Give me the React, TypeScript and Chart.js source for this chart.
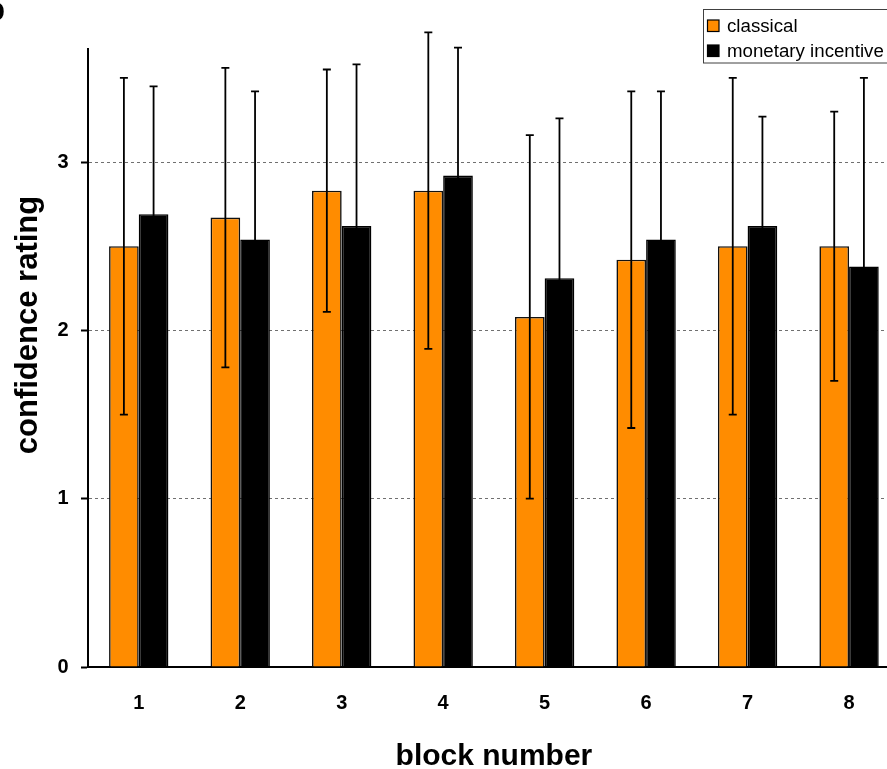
import React, { useEffect, useRef } from "react";
import { Chart, registerables } from "chart.js";

Chart.register(...registerables);

const blocks = ["1", "2", "3", "4", "5", "6", "7", "8"];
const classicalMean = [2.5, 2.67, 2.83, 2.83, 2.08, 2.42, 2.5, 2.5];
const classicalSD = [1.0, 0.89, 0.72, 0.94, 1.08, 1.0, 1.0, 0.8];
const monetaryMean = [2.69, 2.54, 2.62, 2.92, 2.31, 2.54, 2.62, 2.38];
const monetarySD = [0.76, 0.88, 0.96, 0.76, 0.95, 0.88, 0.65, 1.12];
const yTicks = [0, 1, 2, 3];
const seriesLabels = ["classical", "monetary incentive"];
const xTitle = "block number";
const yTitle = "confidence rating";
const panelLetter = "b";

const FONT = "'Liberation Sans', Arial, Helvetica, sans-serif";
const ORANGE = "#FF8C00";

const errorBarPlugin = {
  id: "errorBars",
  afterDatasetsDraw(chart: any) {
    const { ctx } = chart;
    const yScale = chart.scales.y;
    const sds = [classicalSD, monetarySD];
    ctx.save();
    ctx.strokeStyle = "#000";
    ctx.lineWidth = 1.8;
    chart.data.datasets.forEach((ds: any, di: number) => {
      const meta = chart.getDatasetMeta(di);
      meta.data.forEach((bar: any, i: number) => {
        const m = ds.data[i];
        const sd = sds[di][i];
        const x = bar.x;
        const yHi = yScale.getPixelForValue(m + sd);
        const yLo = yScale.getPixelForValue(m - sd);
        ctx.beginPath();
        ctx.moveTo(x, yHi);
        ctx.lineTo(x, yLo);
        ctx.moveTo(x - 4, yHi);
        ctx.lineTo(x + 4, yHi);
        ctx.moveTo(x - 4, yLo);
        ctx.lineTo(x + 4, yLo);
        ctx.stroke();
      });
    });
    ctx.restore();
  },
};

const decorPlugin = {
  id: "decor",
  afterDraw(chart: any) {
    const { ctx, chartArea } = chart;
    ctx.save();
    ctx.fillStyle = "#000";
    ctx.font = `bold 30px ${FONT}`;
    ctx.textAlign = "center";
    ctx.textBaseline = "alphabetic";
    ctx.fillText(xTitle, (chartArea.left + chartArea.right) / 2, 765);

    ctx.save();
    ctx.translate(36.5, 325);
    ctx.rotate(-Math.PI / 2);
    ctx.font = `bold 31px ${FONT}`;
    ctx.fillText(yTitle, 0, 0);
    ctx.restore();

    ctx.font = `bold 32px ${FONT}`;
    ctx.textAlign = "right";
    ctx.fillText(panelLetter, 5, 20);

    ctx.fillStyle = "#fff";
    ctx.fillRect(703.5, 9.5, 200, 53.5);
    ctx.strokeStyle = "#404040";
    ctx.lineWidth = 1;
    ctx.strokeRect(703.5, 9.5, 200, 53.5);
    const colors = chart.data.datasets.map((d: any) => d.backgroundColor);
    const rows = [25.5, 50.5];
    ctx.font = `18.7px ${FONT}`;
    ctx.textAlign = "left";
    ctx.textBaseline = "alphabetic";
    chart.data.datasets.forEach((d: any, i: number) => {
      const cy = rows[i];
      ctx.fillStyle = colors[i];
      ctx.fillRect(707.5, cy - 5.5, 11.5, 11.5);
      ctx.strokeStyle = "#000";
      ctx.lineWidth = 1.2;
      ctx.strokeRect(707.5, cy - 5.5, 11.5, 11.5);
      ctx.fillStyle = "#000";
      ctx.fillText(d.label, 727, cy + 6.5);
    });
    ctx.restore();
  },
};

export default function App() {
  const ref = useRef<HTMLCanvasElement>(null);
  useEffect(() => {
    if (!ref.current) return;
    const chart = new Chart(ref.current, {
      type: "bar",
      data: {
        labels: blocks,
        datasets: [
          {
            label: seriesLabels[0],
            data: classicalMean,
            backgroundColor: ORANGE,
            borderColor: "#111",
            borderWidth: 1.6,
            categoryPercentage: 0.585,
            barPercentage: 1,
          },
          {
            label: seriesLabels[1],
            data: monetaryMean,
            backgroundColor: "#000",
            borderColor: "#000",
            borderWidth: 1.6,
            categoryPercentage: 0.585,
            barPercentage: 1,
          },
        ],
      },
      options: {
        responsive: false,
        animation: false,
        layout: { padding: { top: 49.3, left: 0, right: 2.2, bottom: 0 } },
        plugins: {
          legend: { display: false },
          tooltip: { enabled: false },
          title: { display: false },
        },
        scales: {
          x: {
            grid: { display: false, drawTicks: false },
            border: { display: true, color: "#000", width: 2 },
            ticks: {
              color: "#000",
              padding: 24,
              font: { family: FONT, size: 20, weight: "bold" },
            },
            afterFit(scale: any) {
              scale.height = 102;
            },
          },
          y: {
            min: 0,
            max: 3.67,
            afterBuildTicks(scale: any) {
              scale.ticks = yTicks.map((v) => ({ value: v }));
            },
            grid: {
              color: (c: any) => (c.tick && c.tick.value === 0 ? "rgba(0,0,0,0)" : "#707070"),
              lineWidth: 1,
              tickLength: 7,
              tickColor: "#000",
              tickWidth: 2,
            },
            border: { display: true, color: "#000", width: 2, dash: [3, 3] },
            ticks: {
              color: "#000",
              padding: 12.5,
              font: { family: FONT, size: 20, weight: "bold" },
            },
            afterFit(scale: any) {
              scale.width = 88;
            },
          },
        },
      },
      plugins: [errorBarPlugin, decorPlugin],
    } as any);
    return () => chart.destroy();
  }, []);

  return (
    <div
      style={{
        position: "fixed",
        left: 0,
        top: 0,
        width: 887,
        height: 769,
        overflow: "hidden",
        background: "#fff",
      }}
    >
      <canvas ref={ref} width={902} height={769} style={{ display: "block" }} />
    </div>
  );
}
